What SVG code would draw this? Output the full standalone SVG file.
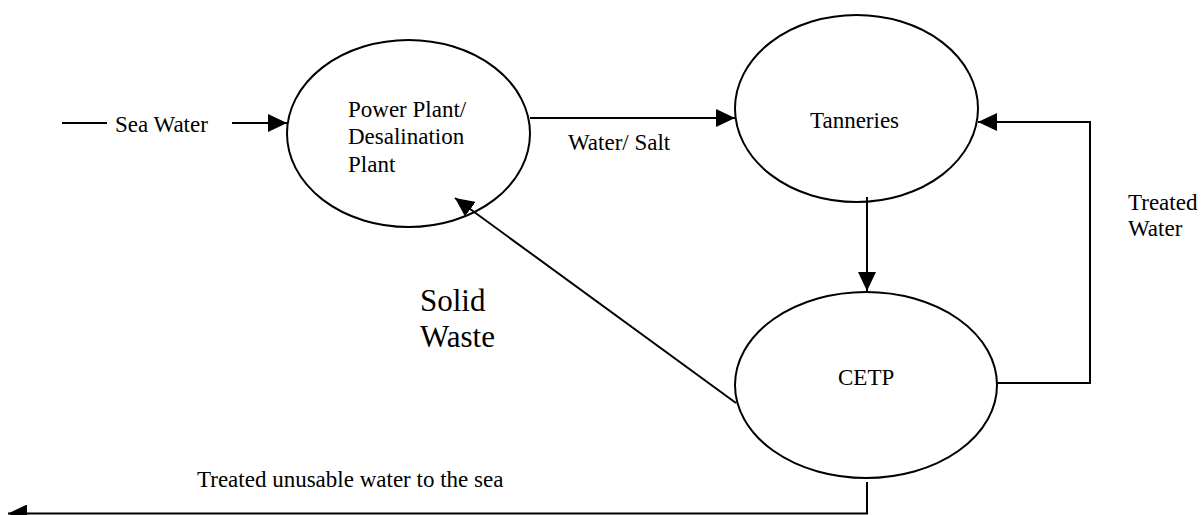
<svg xmlns="http://www.w3.org/2000/svg" width="1201" height="515" viewBox="0 0 1201 515">
<style>
.n{fill:#fff;stroke:#000;stroke-width:2}
.c{fill:none;stroke:#000;stroke-width:2}
.t{font-family:"Liberation Serif","Times New Roman",serif;font-size:23px;fill:#000}
.b{font-size:31px}
</style>
<defs>
<marker id="ah" markerUnits="userSpaceOnUse" markerWidth="19" markerHeight="18" refX="19" refY="9" orient="auto">
<path d="M0,0 L19,9 L0,18 z" fill="#000"/>
</marker>
</defs>
<rect width="1201" height="515" fill="#fff"/>
<g id="power-plant">
<ellipse class="n" cx="408.5" cy="133.5" rx="121.5" ry="93.5"/>
<text class="t" x="348" y="117">Power Plant/</text>
<text class="t" x="348" y="144">Desalination</text>
<text class="t" x="348" y="172">Plant</text>
</g>
<g id="tanneries">
<ellipse class="n" cx="856.5" cy="108.5" rx="121.5" ry="93.5"/>
<text class="t" x="810" y="128">Tanneries</text>
</g>
<g id="cetp">
<ellipse class="n" cx="866" cy="385" rx="131" ry="93"/>
<text class="t" x="838" y="385">CETP</text>
</g>
<g id="connectors">
<line class="c" x1="62" y1="123" x2="107" y2="123"/>
<line class="c" x1="232" y1="123" x2="287" y2="123" marker-end="url(#ah)"/>
<line class="c" x1="530" y1="118" x2="735" y2="118" marker-end="url(#ah)"/>
<line class="c" x1="867" y1="197" x2="867" y2="291" marker-end="url(#ah)"/>
<polyline class="c" points="997,383 1090,383 1090,122 978,122" marker-end="url(#ah)"/>
<line class="c" x1="736" y1="403" x2="455" y2="198" marker-end="url(#ah)"/>
<polyline class="c" points="867,482 867,513.5 8,513.5" marker-end="url(#ah)"/>
</g>
<g id="labels">
<text class="t" x="115" y="132">Sea Water</text>
<text class="t" x="568" y="150">Water/ Salt</text>
<text class="t b" x="420" y="311">Solid</text>
<text class="t b" x="420" y="347">Waste</text>
<text class="t" x="1128" y="210">Treated</text>
<text class="t" x="1128" y="236">Water</text>
<text class="t" x="197" y="487">Treated unusable water to the sea</text>
</g>
</svg>
